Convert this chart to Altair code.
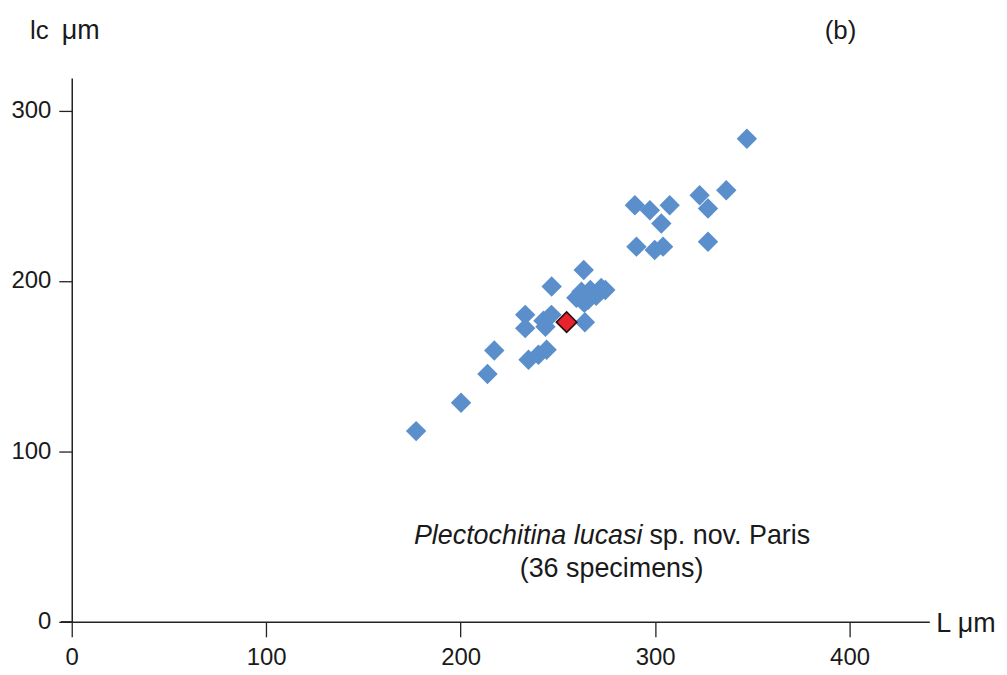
import altair as alt
import pandas as pd

# Blue specimens (L µm, lc µm)
L_blue = [347.2, 336.6, 322.9, 327.2, 307.5, 289.6, 297.3, 303.2, 290.4, 299.8, 304.1, 327.2,
          263.3, 246.8,
          259.5, 262.1, 265.6, 266.7, 269.7, 272.3, 274.4, 263.6,
          233.2, 233.2, 242.6, 246.7, 243.6,
          263.9,
          217.3, 234.9, 240.0, 244.2, 213.8, 200.2, 177.1]
lc_blue = [283.4, 253.2, 250.3, 242.5, 244.4, 244.4, 241.5, 233.7, 220.1, 218.1, 220.1, 223.0,
           206.4, 196.7,
           190.1, 193.6, 188.9, 194.7, 191.2, 195.9, 194.7, 187.1,
           180.1, 172.3, 176.6, 180.1, 173.1,
           175.8,
           159.2, 153.8, 156.7, 159.6, 145.4, 128.5, 111.9]
# Highlighted specimen (red)
L_red = [254.5]
lc_red = [175.8]

x_ticks = [0, 100, 200, 300, 400]
y_ticks = [0, 100, 200, 300]

W, H = 861, 546
FONT = "Liberation Sans"
TXT = "#1a1a1a"

blue_df = pd.DataFrame({"L": L_blue, "lc": lc_blue})
red_df = pd.DataFrame({"L": L_red, "lc": lc_red})

xscale = alt.Scale(domain=[0, 441], nice=False, zero=False)
yscale = alt.Scale(domain=[0, 319], nice=False, zero=False)

xaxis = alt.Axis(values=x_ticks, title=None, grid=False, domainColor="#222", domainWidth=1.5,
                 tickColor="#222", tickWidth=1.3, tickSize=15, labelFont=FONT, labelFontSize=24,
                 labelColor=TXT, labelPadding=9, labelFlush=False)
yaxis = alt.Axis(values=y_ticks, title=None, grid=False, domainColor="#222", domainWidth=1.5,
                 tickColor="#222", tickWidth=1.3, tickSize=13, labelFont=FONT, labelFontSize=24,
                 labelColor=TXT, labelPadding=8, labelFlush=False)

blue = alt.Chart(blue_df).mark_point(shape="diamond", filled=True, size=420, opacity=1,
                                     color="#5a8fcc").encode(
    x=alt.X("L:Q", scale=xscale, axis=xaxis),
    y=alt.Y("lc:Q", scale=yscale, axis=yaxis),
)
red = alt.Chart(red_df).mark_point(shape="diamond", filled=True, size=420, opacity=1,
                                   fill="#e8232b", stroke="#2a1010", strokeWidth=1.6).encode(
    x=alt.X("L:Q", scale=xscale),
    y=alt.Y("lc:Q", scale=yscale),
)

ext = alt.Chart(pd.DataFrame({"a": [0]})).mark_rule(color="#222", strokeWidth=1.5).encode(
    x=alt.value(-11), x2=alt.value(0), y=alt.value(H))

def label(text, x, y, align="left", style="normal", size=26):
    return alt.Chart(pd.DataFrame({"t": [text]})).mark_text(
        font=FONT, fontSize=size, color=TXT, align=align, baseline="middle", fontStyle=style
    ).encode(text="t:N", x=alt.value(x), y=alt.value(y))

texts = [
    label("lc", -42, -47),
    label("μm", -10, -47, size=27),
    label("(b)", 756, -47),
    label("L μm", 868, 2 + H, size=27),
    label("Plectochitina lucasi", 573, 460, align="right", style="italic", size=27),
    label("sp. nov. Paris", 580, 460, size=27),
    label("(36 specimens)", 542, 493, align="center", size=27),
]

chart = alt.layer(ext, blue, red, *texts).properties(
    width=W, height=H,
    autosize=alt.AutoSizeParams(type="none"),
    padding={"left": 64, "top": 69, "right": 70, "bottom": 48},
).configure_view(stroke=None)

chart.save("out.html", embed_options={"renderer": "svg", "actions": False})
